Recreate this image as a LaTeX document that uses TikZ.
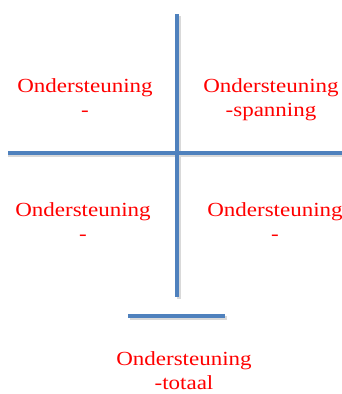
\documentclass[tikz,border=0pt]{standalone}
\usepackage{fontspec}
\setmainfont{Liberation Serif}[FakeStretch=1.15]
\usetikzlibrary{positioning}
\definecolor{barblue}{HTML}{4F81BD}
\definecolor{lblred}{HTML}{FF0000}

\begin{document}
\begin{tikzpicture}[
x=1pt, y=-1pt,
bar/.style={draw=barblue, line width=4pt},
shade/.style={draw=black!15, line width=4pt},
lbl/.style={anchor=base, align=center, text=lblred, font=\fontsize{20}{24}\selectfont, inner sep=0pt}
]
\useasboundingbox (0,0) rectangle (342,394);
% axes
\coordinate (vtop) at (177,14);
\coordinate (vbot) at (177,297);
\coordinate (hleft) at (8,153);
\coordinate (hright) at (342,153);
\coordinate (bleft) at (128,316);
\coordinate (bright) at (225,316);
\draw[shade] ([shift={(1.5,2)}]vtop) -- ([shift={(1.5,2)}]vbot);
\draw[shade] ([shift={(0,2)}]hleft) -- ([shift={(0,2)}]hright);
\draw[shade] ([shift={(1.5,2)}]bleft) -- ([shift={(1.5,2)}]bright);
\draw[bar] (vtop) -- (vbot);
\draw[bar] (hleft) -- (hright);
\draw[bar] (bleft) -- (bright);
% labels (base = last line)
\node[lbl] (tl) at (85,116) {Ondersteuning\\-};
\node[lbl] (tr) at (271,116) {Ondersteuning\\-spanning};
\node[lbl] (bl) at (83,240) {Ondersteuning\\-};
\node[lbl] (br) at (275,240) {Ondersteuning\\-};
\node[lbl] (tot) at (184,389) {Ondersteuning\\-totaal};
\end{tikzpicture}
\end{document}
